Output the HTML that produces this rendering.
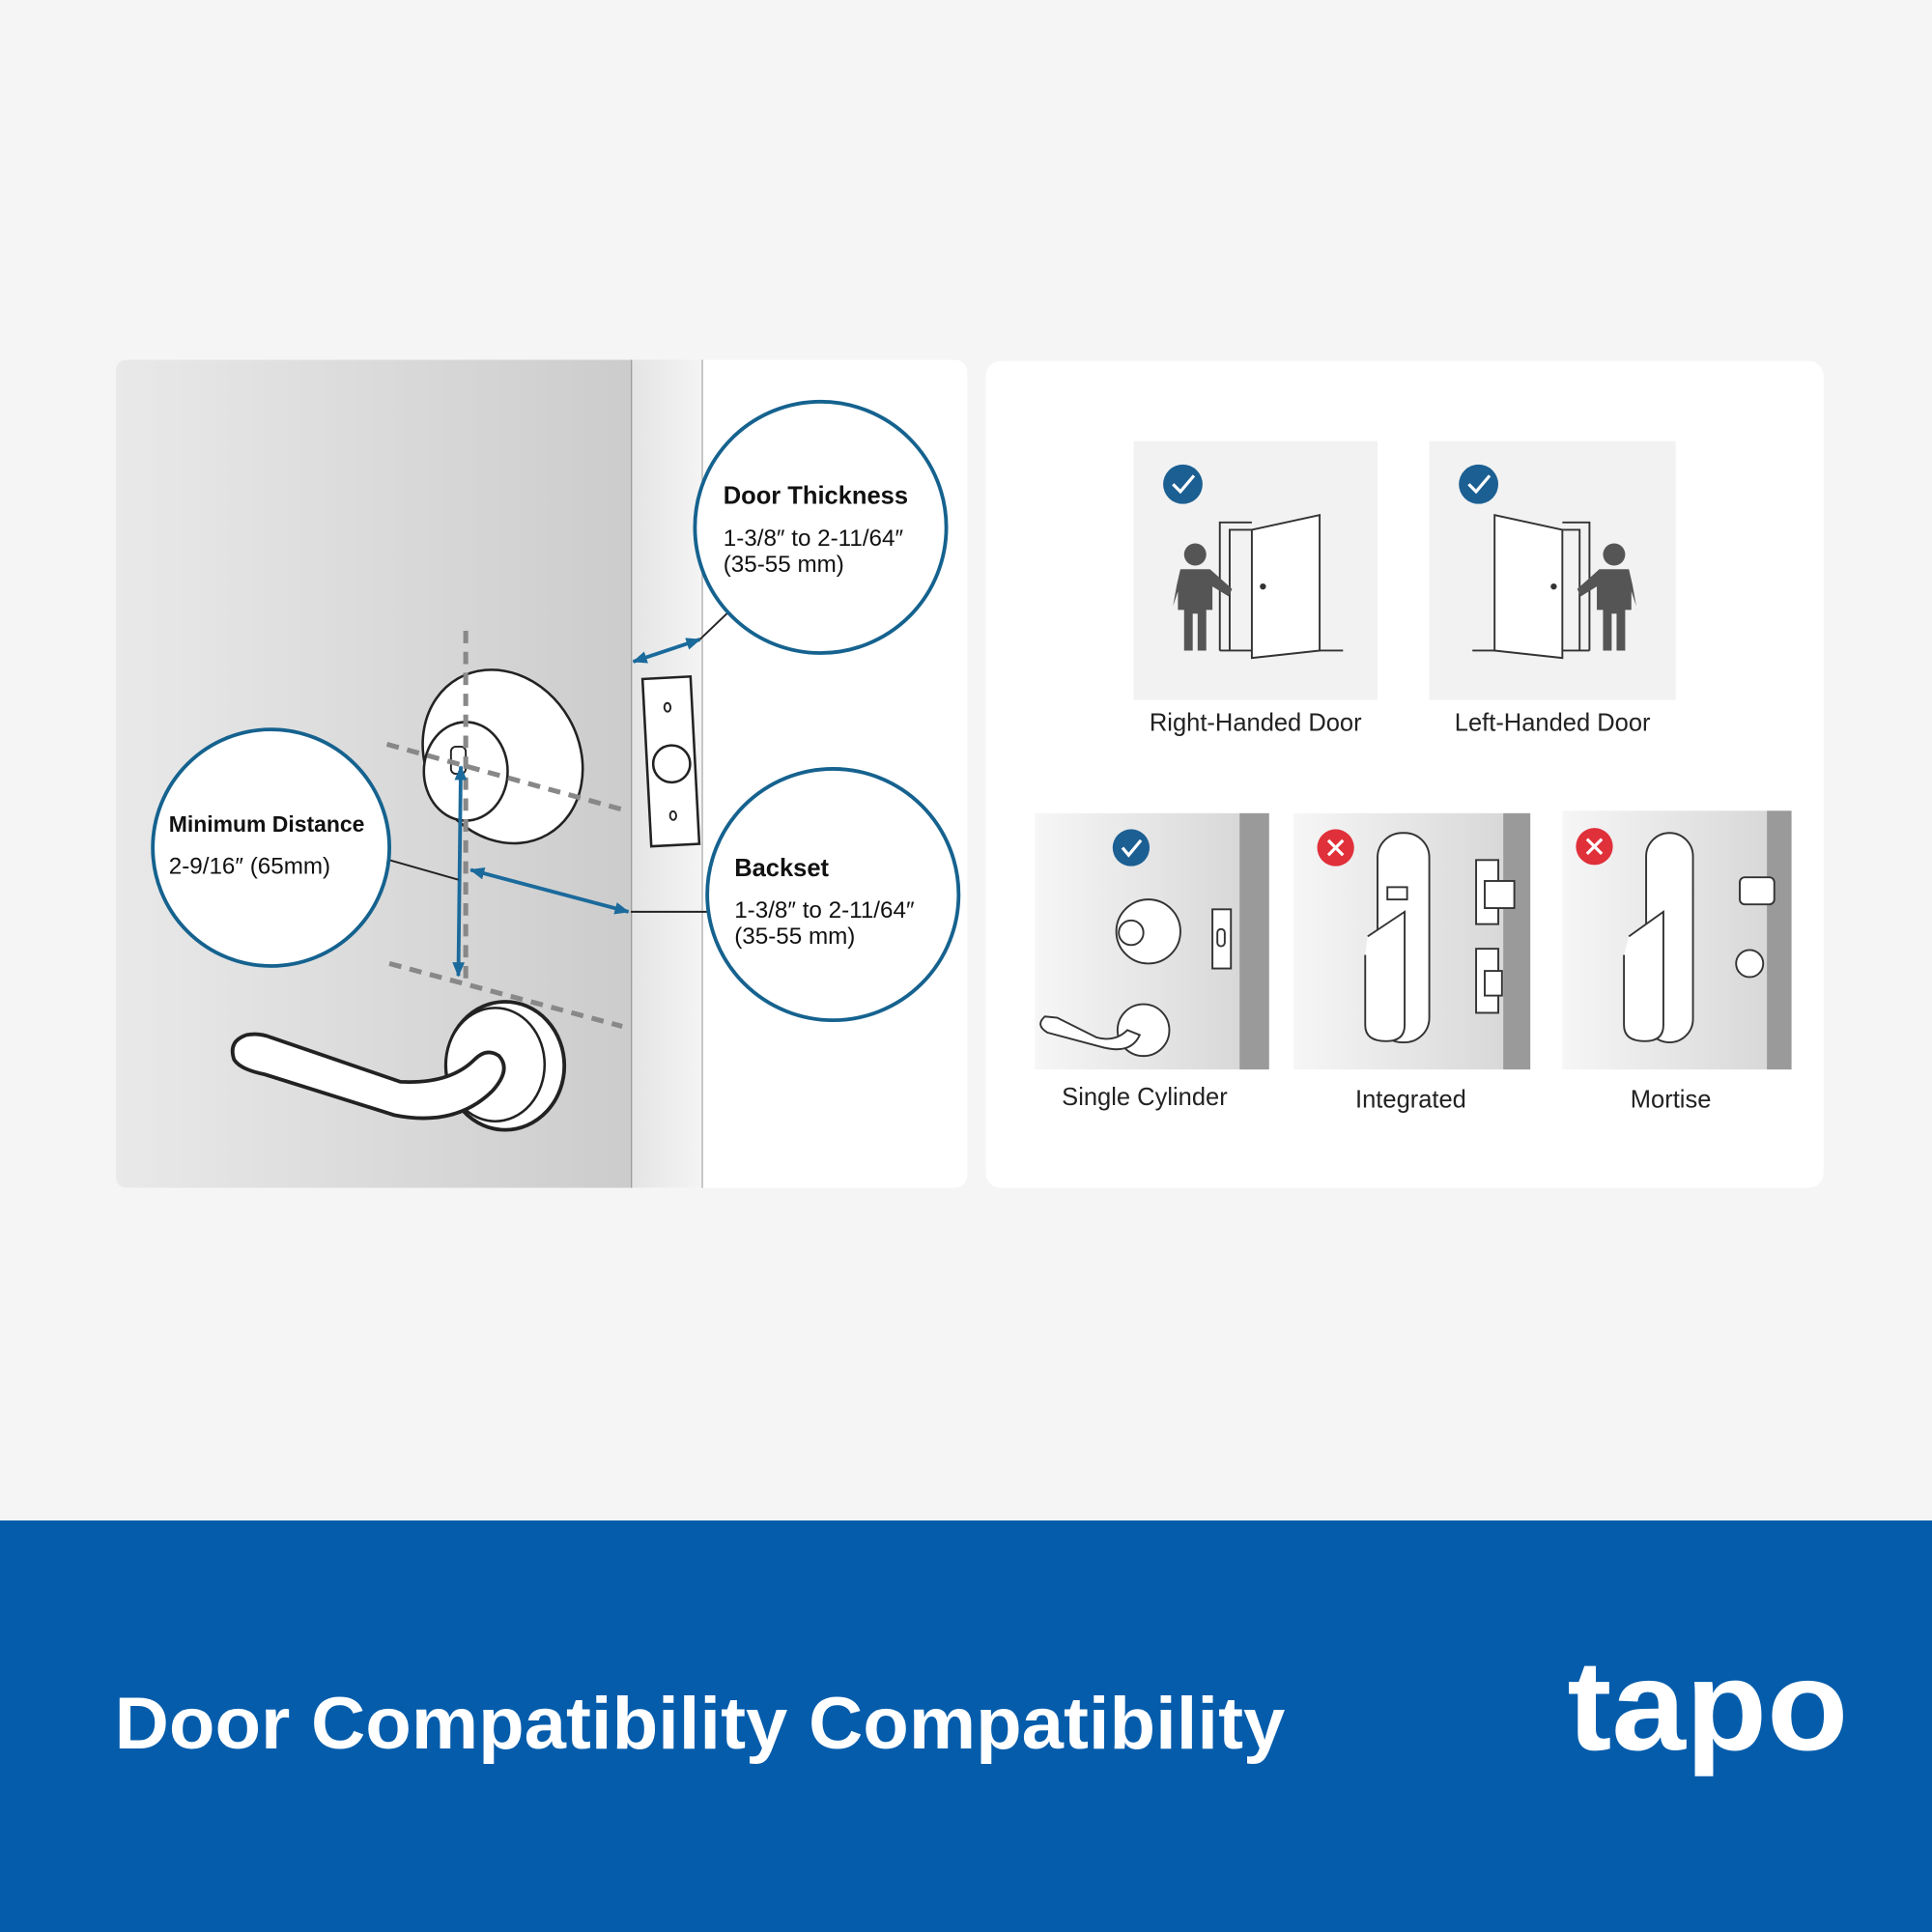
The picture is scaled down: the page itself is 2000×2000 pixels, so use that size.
<!DOCTYPE html>
<html><head><meta charset="utf-8"><style>
html,body{margin:0;padding:0;background:#f5f5f5}
svg{display:block}
text{font-family:"Liberation Sans","DejaVu Sans",sans-serif}
</style></head><body>
<svg width="2000" height="2000" viewBox="0 0 1568 1568" xmlns="http://www.w3.org/2000/svg">
<defs>
<linearGradient id="door" x1="0" x2="1" y1="0" y2="0">
<stop offset="0" stop-color="#e9e9e9"/><stop offset="1" stop-color="#cccccc"/></linearGradient>
<linearGradient id="edge" x1="0" x2="1"><stop offset="0" stop-color="#e4e4e4"/><stop offset="1" stop-color="#f4f4f4"/></linearGradient>
<linearGradient id="tile" x1="0" x2="1"><stop offset="0" stop-color="#f6f6f6"/><stop offset="1" stop-color="#d8d8d8"/></linearGradient>
<marker id="ah" markerUnits="userSpaceOnUse" markerWidth="12" markerHeight="10" refX="11" refY="5" orient="auto-start-reverse"><path d="M0,0 L12,5 L0,10 z" fill="#1b6a9c"/></marker>
</defs>
<rect width="1568" height="1568" fill="#f5f5f5"/>
<rect x="94" y="292" width="691" height="672" rx="10" fill="#fff"/>
<path d="M104,292 H512 V964 H104 Q94,964 94,954 V302 Q94,292 104,292Z" fill="url(#door)"/>
<rect x="512" y="292" width="58" height="672" fill="url(#edge)"/>
<line x1="512.5" y1="292" x2="512.5" y2="964" stroke="#999" stroke-width="1"/>
<line x1="570" y1="292" x2="570" y2="964" stroke="#aaa" stroke-width="1"/>
<g transform="rotate(-3 544 618)"><rect x="525" y="550" width="39" height="136" fill="#fff" stroke="#222" stroke-width="2"/>
<circle cx="545" cy="620" r="15" fill="#fff" stroke="#222" stroke-width="2"/>
<ellipse cx="544" cy="574" rx="2.5" ry="3.5" fill="none" stroke="#222" stroke-width="1.5"/>
<ellipse cx="544" cy="662" rx="2.5" ry="3.5" fill="none" stroke="#222" stroke-width="1.5"/></g>
<g transform="rotate(-30 408 614)"><ellipse cx="408" cy="614" rx="62" ry="73" fill="#fff" stroke="#222" stroke-width="2"/></g>
<ellipse cx="378" cy="626" rx="34" ry="40" fill="#fff" stroke="#222" stroke-width="2"/>
<rect x="366" y="606" width="12" height="22" rx="4" fill="none" stroke="#222" stroke-width="1.5"/>
<ellipse cx="410" cy="865" rx="48" ry="52" fill="#fff" stroke="#222" stroke-width="3"/>
<ellipse cx="402" cy="864" rx="40" ry="46" fill="#fff" stroke="#222" stroke-width="2"/>
<path d="M200,840 Q185,845 190,860 Q195,868 215,872 L320,905 Q370,915 400,885 Q415,868 405,857 Q395,850 385,860 Q365,880 325,878 L220,842 Q210,838 200,840Z" fill="#fff" stroke="#222" stroke-width="3"/>
<g stroke="#888" stroke-width="4" stroke-dasharray="10 7" fill="none">
<line x1="378" y1="512" x2="378" y2="800"/>
<line x1="314" y1="604" x2="505" y2="657"/>
<line x1="316" y1="782" x2="505" y2="833"/>
</g>
<g stroke="#1b6a9c" stroke-width="3" fill="none">
<line x1="372" y1="792" x2="374" y2="622" marker-end="url(#ah)" marker-start="url(#ah)"/>
<line x1="382" y1="706" x2="510" y2="740" marker-end="url(#ah)" marker-start="url(#ah)"/>
<line x1="514" y1="537" x2="568" y2="519" marker-end="url(#ah)" marker-start="url(#ah)"/>
</g>
<g stroke="#222" stroke-width="1.5">
<line x1="316" y1="698" x2="372" y2="714"/>
<line x1="512" y1="740" x2="574" y2="740"/>
<line x1="568" y1="519" x2="592" y2="496"/>
</g>
<g fill="#fff" stroke="#15628f" stroke-width="3">
<circle cx="666" cy="428" r="102"/><circle cx="676" cy="726" r="102"/><circle cx="220" cy="688" r="96"/>
</g>
<text x="587" y="409" font-size="20" font-weight="bold" fill="#111">Door Thickness</text>
<text x="587" y="443" font-size="19" fill="#111">1-3/8″ to 2-11/64″</text>
<text x="587" y="464" font-size="19" fill="#111">(35-55 mm)</text>
<text x="596" y="711" font-size="20" font-weight="bold" fill="#111">Backset</text>
<text x="596" y="745" font-size="19" fill="#111">1-3/8″ to 2-11/64″</text>
<text x="596" y="766" font-size="19" fill="#111">(35-55 mm)</text>
<text x="137" y="675" font-size="18" font-weight="bold" fill="#111">Minimum Distance</text>
<text x="137" y="709" font-size="19" fill="#111">2-9/16″ (65mm)</text>
<rect x="800" y="293" width="680" height="671" rx="12" fill="#fff"/>
<rect x="920" y="358" width="198" height="210" fill="#f2f2f2"/>
<rect x="1160" y="358" width="200" height="210" fill="#f2f2f2"/>
<g fill="none" stroke="#333" stroke-width="1.5">
<path d="M990,528 V424 H1016 M990,528 H1090"/><path d="M998,528 V430 H1016"/>
<path d="M1016,430 L1071,418 V528 L1016,534Z" fill="#fff"/>
<path d="M1290,528 V424 H1268 M1290,528 H1195"/><path d="M1282,528 V430 H1268"/>
<path d="M1268,430 L1213,418 V528 L1268,534Z" fill="#fff"/>
</g>
<circle cx="1025" cy="476" r="2.5" fill="#333"/><circle cx="1261" cy="476" r="2.5" fill="#333"/>
<g fill="#555">
<circle cx="970" cy="450" r="9"/><path d="M958,462 H982 L1000,478 L997,484 L984,476 V495 H979 V528 H972 V498 H968 V528 H961 V495 H956 V480 L952,492 L955,475Z"/>
<circle cx="1310" cy="450" r="9"/><path d="M1322,462 H1298 L1280,478 L1283,484 L1296,476 V495 H1301 V528 H1308 V498 H1312 V528 H1319 V495 H1324 V480 L1328,492 L1325,475Z"/>
</g>
<g><circle cx="960" cy="393" r="16" fill="#1b5f93"/><path d="M952,393 L958,399 L969,386" stroke="#fff" stroke-width="2.5" fill="none"/>
<circle cx="1200" cy="393" r="16" fill="#1b5f93"/><path d="M1192,393 L1198,399 L1209,386" stroke="#fff" stroke-width="2.5" fill="none"/></g>
<text x="1019" y="593" font-size="20" fill="#222" text-anchor="middle">Right-Handed Door</text>
<text x="1260" y="593" font-size="20" fill="#222" text-anchor="middle">Left-Handed Door</text>
<rect x="840" y="660" width="166" height="208" fill="url(#tile)"/><rect x="1006" y="660" width="24" height="208" fill="#9a9a9a"/>
<rect x="1050" y="660" width="170" height="208" fill="url(#tile)"/><rect x="1220" y="660" width="22" height="208" fill="#9a9a9a"/>
<rect x="1268" y="658" width="166" height="210" fill="url(#tile)"/><rect x="1434" y="658" width="20" height="210" fill="#9a9a9a"/>
<g fill="#fff" stroke="#333" stroke-width="1.5">
<circle cx="932" cy="756" r="26"/><circle cx="918" cy="757" r="10"/>
<rect x="984" y="738" width="15" height="48"/><rect x="988" y="754" width="6" height="14" rx="3"/>
<circle cx="928" cy="836" r="21"/><path d="M848,825 Q840,832 850,838 L895,850 Q918,856 925,840 L915,836 Q905,846 890,842 L858,826Z"/>
<rect x="1118" y="676" width="42" height="170" rx="20"/><path d="M1110,760 L1140,740 V832 Q1140,845 1125,845 Q1108,845 1108,832V775"/>
<rect x="1198" y="698" width="18" height="52"/><rect x="1205" y="715" width="24" height="22"/>
<rect x="1198" y="770" width="18" height="52"/><rect x="1205" y="788" width="14" height="20"/>
<rect x="1126" y="720" width="16" height="10"/>
<rect x="1336" y="676" width="38" height="170" rx="19"/><path d="M1322,760 L1350,740 V832 Q1350,845 1335,845 Q1318,845 1318,832V775"/>
<rect x="1412" y="712" width="28" height="22" rx="4"/><circle cx="1420" cy="782" r="11"/>
</g>
<circle cx="918" cy="688" r="15" fill="#1b5f93"/><path d="M911,688 L916,694 L926,682" stroke="#fff" stroke-width="2.5" fill="none"/>
<circle cx="1084" cy="688" r="15" fill="#e0303a"/><path d="M1078,682 L1090,694 M1090,682 L1078,694" stroke="#fff" stroke-width="2.5"/>
<circle cx="1294" cy="687" r="15" fill="#e0303a"/><path d="M1288,681 L1300,693 M1300,681 L1288,693" stroke="#fff" stroke-width="2.5"/>
<text x="929" y="897" font-size="20" fill="#222" text-anchor="middle">Single Cylinder</text>
<text x="1145" y="899" font-size="20" fill="#222" text-anchor="middle">Integrated</text>
<text x="1356" y="899" font-size="20" fill="#222" text-anchor="middle">Mortise</text>
<rect x="0" y="1234" width="1568" height="334" fill="#045cab"/>
<text x="93" y="1419" font-size="60" font-weight="bold" fill="#fff" textLength="950" lengthAdjust="spacingAndGlyphs">Door Compatibility Compatibility</text>
<text x="1272" y="1420" font-size="104" font-weight="bold" fill="#fff" textLength="228" lengthAdjust="spacingAndGlyphs">tapo</text>
</svg>
</body></html>
